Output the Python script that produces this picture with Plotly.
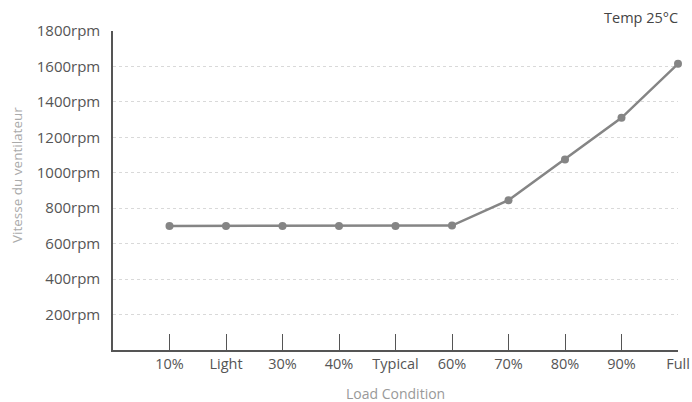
import plotly.graph_objects as go

categories = ["10%", "Light", "30%", "40%", "Typical", "60%", "70%", "80%", "90%", "Full"]
fan_speed = [700, 700, 700, 700, 700, 702, 845, 1075, 1310, 1615]
y_ticks = [200, 400, 600, 800, 1000, 1200, 1400, 1600, 1800]
y_tick_labels = [f"{v}rpm" for v in y_ticks]

FONT = "Open Sans"
W, H = 692, 402
ML, MT, MR, MB = 113, 31, 692 - 678, 402 - 350
PW = W - ML - MR
PH = H - MT - MB

def px_x(x):
    return (x - ML) / PW

def px_y(y):
    return (350 - y) / PH

fig = go.Figure()
fig.add_trace(go.Scatter(
    x=list(range(len(categories))), y=fan_speed, mode="lines+markers",
    line=dict(color="#858585", width=2.5),
    marker=dict(color="#858585", size=8),
    hoverinfo="skip", showlegend=False, cliponaxis=False,
))

fig.update_layout(
    width=W, height=H,
    margin=dict(l=ML, r=MR, t=MT, b=MB, autoexpand=False),
    paper_bgcolor="white", plot_bgcolor="white",
    font=dict(family=FONT, size=15, color="#555555"),
    hovermode=False,
    xaxis=dict(
        range=[-1, 9], tickvals=list(range(len(categories))), ticktext=categories,
        showgrid=False, zeroline=False, showline=True, linecolor="#555555", linewidth=1.5,
        ticks="inside", ticklen=16, tickcolor="#555555", tickwidth=1,
        tickfont=dict(size=14.5, color="#555555"),
        ticklabeloverflow="allow",
    ),
    yaxis=dict(
        range=[0, 1800], tickvals=y_ticks, ticktext=y_tick_labels,
        showgrid=True, gridcolor="#d9d9d9", griddash="dot", gridwidth=1,
        zeroline=False, showline=True, linecolor="#555555", linewidth=1.5,
        ticks="", ticklabelstandoff=8,
        tickfont=dict(size=15, color="#555555"),
    ),
    annotations=[
        dict(text="Vitesse du ventilateur", xref="paper", yref="paper",
             x=px_x(17), y=px_y(175), textangle=-90, showarrow=False,
             xanchor="center", yanchor="middle",
             font=dict(size=13.5, color="#aaaaaa", family=FONT)),
        dict(text="Load Condition", xref="paper", yref="paper",
             x=px_x(395), y=px_y(393), showarrow=False,
             xanchor="center", yanchor="middle",
             font=dict(size=14, color="#999999", family=FONT)),
        dict(text="Temp 25°C", xref="paper", yref="paper",
             x=px_x(680), y=px_y(18), showarrow=False,
             xanchor="right", yanchor="middle",
             font=dict(size=14.5, color="#444444", family=FONT)),
    ],
)

fig.write_html("out.html", config={"displayModeBar": False},
               post_script="document.body.style.margin='0';")
